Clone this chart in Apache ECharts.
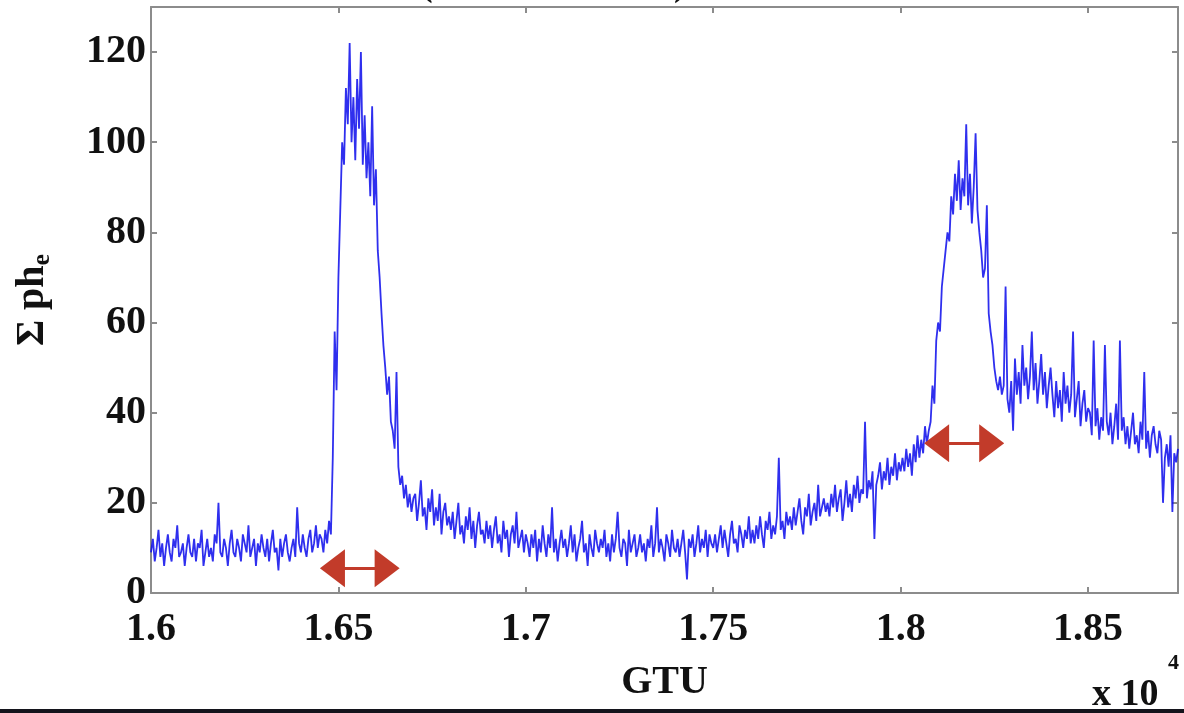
<!DOCTYPE html>
<html>
<head>
<meta charset="utf-8">
<script src="https://cdn.jsdelivr.net/npm/echarts@6/dist/echarts.min.js"></script>
<style>
html,body{margin:0;padding:0;background:#fff;}
#chart{width:1184px;height:713px;}
</style>
</head>
<body>
<div id="chart"></div>
<script>
// GTU sampling of the trace (x values in GTU, axis shown in units of 10^4)
const gtuStart = 16000;
const gtuStep = 5;

// Σ ph_e values, segment by segment
const baselineBefore = [ // 16000 .. 16480
  9,12,7,10,14,8,11,6,10,13,9,7,12,10,15,8,9,11,6,10,
  13,9,8,12,7,11,10,14,6,9,12,8,10,7,13,11,20,9,8,12,
  10,6,11,14,9,8,12,10,7,13,11,9,15,8,10,12,6,11,9,13,
  10,8,12,7,11,14,9,10,5,12,8,11,13,9,7,10,12,8,19,11,
  9,13,10,8,12,14,9,11,15,10,13,12,9,14,11,16,13
];
const firstPeak = [ // 16485 .. 16700
  30,58,45,70,85,100,95,112,104,122,100,110,96,114,103,120,95,106,92,100,
  88,108,86,94,76,70,62,55,50,44,48,38,36,32,49,28,24,26,21,24,
  19,22,18,21
];
const valley = [ // 16705 .. 17800
  22,16,20,25,17,19,14,21,18,23,15,19,16,22,13,18,20,15,17,14,
  18,12,16,20,13,15,11,17,14,19,12,16,10,15,18,13,14,11,16,12,
  15,10,14,17,11,13,9,16,12,14,8,13,15,11,18,10,12,14,9,13,
  11,8,13,10,14,7,12,9,15,11,8,13,10,19,9,12,7,11,14,10,
  12,8,11,15,9,13,7,10,12,16,9,11,6,13,10,8,14,11,9,12,
  10,14,8,11,7,13,9,12,18,10,8,12,11,6,14,9,11,13,8,10,
  13,9,11,7,12,10,15,8,11,19,9,12,10,7,13,11,8,14,10,9,
  12,8,11,14,9,3,12,10,13,8,11,15,9,12,10,14,8,13,11,10,
  13,9,12,15,10,14,11,8,13,16,11,12,9,15,13,10,14,12,17,11,
  14,11,15,12,17,13,10,16,14,18,12,15,13,17,30,14,16,12,18,15,
  17,14,19,15,18,21,16,13,19,17,22,15,18,20,16,24,17,19,21,18
];
const rise = [ // 17805 .. 18080
  20,17,22,19,24,18,21,23,16,20,25,19,22,18,24,21,26,20,23,22,
  38,21,25,23,27,12,24,26,29,23,27,25,30,24,28,26,31,25,29,27,
  30,27,32,28,31,26,33,29,35,30,34,31,37,33,36,38
];
const secondPeak = [ // 18085 .. 18300
  46,42,56,60,58,68,72,76,80,78,88,84,93,87,96,85,92,88,104,86,
  93,82,90,102,85,80,76,70,72,86,62,58,55,50,47,45,48,44,46,68,
  43,40,47,36
];
const tail = [ // 18305 .. 18740
  52,44,49,42,55,46,50,43,48,58,45,51,42,47,53,44,49,41,46,50,
  44,39,47,41,45,38,49,42,46,40,44,58,39,43,47,37,42,45,38,41,
  40,35,56,37,41,34,39,36,55,38,35,40,33,37,42,34,56,36,39,33,
  37,32,36,40,33,35,31,38,34,49,32,36,30,35,37,33,31,36,34,20,
  30,33,28,35,18,31,29,32
];
const sumPh = [].concat(baselineBefore, firstPeak, valley, rise, secondPeak, tail);

// Axis ticks
const xTickInterval = 500, xMin = 16000, xMax = 18740;
const yTickInterval = 20, yMin = 0, yMax = 130;

// Red double-arrow annotations: [startGTU, endGTU, level]
const arrowSpans = [
  [16484, 16630, 5.5],
  [18096, 18243, 33.2]
];

const traceData = sumPh.map((v, i) => [gtuStart + i * gtuStep, v]);

const FONT = 'Liberation Serif';
const boxColor = '#8c8c8c';
const labelStyle = {fontFamily: FONT, fontWeight: 'bold', fontSize: 40, color: '#111'};

const chart = echarts.init(document.getElementById('chart'), null, {renderer: 'canvas'});
const commonX = {
  type: 'value', min: xMin, max: xMax, interval: xTickInterval,
  splitLine: {show: false},
  axisLine: {show: true, onZero: false, lineStyle: {color: boxColor, width: 2}},
  axisTick: {show: true, inside: true, length: 6, lineStyle: {color: boxColor, width: 2}}
};
const commonY = {
  type: 'value', min: yMin, max: yMax, interval: yTickInterval,
  splitLine: {show: false},
  axisLine: {show: true, onZero: false, lineStyle: {color: boxColor, width: 2}},
  axisTick: {show: true, inside: true, length: 6, lineStyle: {color: boxColor, width: 2}}
};

chart.setOption({
  animation: false,
  backgroundColor: '#ffffff',
  grid: {left: 151, right: 6, top: 7, bottom: 120, containLabel: false},
  xAxis: [
    Object.assign({}, commonX, {
      position: 'bottom',
      name: 'GTU', nameLocation: 'middle', nameGap: 70,
      nameTextStyle: labelStyle,
      axisLabel: Object.assign({}, labelStyle, {
        margin: 17, showMaxLabel: false,
        formatter: v => (v % xTickInterval === 0 ? String(v / 10000) : '')
      })
    }),
    Object.assign({}, commonX, {position: 'top', axisLabel: {show: false}})
  ],
  yAxis: [
    Object.assign({}, commonY, {
      position: 'left',
      name: '{m|Σ ph}{s|e}', nameLocation: 'middle', nameGap: 96, nameRotate: 90,
      nameTextStyle: {
        rich: {
          m: {fontFamily: FONT, fontWeight: 'bold', fontSize: 40, color: '#111', lineHeight: 44},
          s: {fontFamily: FONT, fontWeight: 'bold', fontSize: 26, color: '#111', verticalAlign: 'bottom', lineHeight: 44}
        }
      },
      axisLabel: Object.assign({}, labelStyle, {margin: 5, showMaxLabel: false})
    }),
    Object.assign({}, commonY, {position: 'right', axisLabel: {show: false}})
  ],
  series: [
    {
      type: 'line',
      data: traceData,
      showSymbol: false,
      symbol: 'none',
      sampling: 'none',
      silent: true,
      lineStyle: {color: 'rgba(10,10,235,0.85)', width: 1.8}
    },
    {
      type: 'line',
      data: [],
      silent: true,
      markLine: {
        silent: true,
        symbol: ['triangle', 'triangle'],
        symbolSize: [38, 25],
        label: {show: false},
        lineStyle: {color: '#c23b2a', width: 3, type: 'solid'},
        emphasis: {disabled: true},
        data: arrowSpans.map(a => [{coord: [a[0], a[2]]}, {coord: [a[1], a[2]]}])
      }
    }
  ],
  graphic: [
    {type: 'text', left: 420, top: -34, style: {text: '(', font: 'bold 38px "Liberation Serif"', fill: '#111'}},
    {type: 'text', left: 674, top: -34, style: {text: ')', font: 'bold 38px "Liberation Serif"', fill: '#111'}},
    {type: 'text', left: 1092, top: 676, style: {text: 'x 10', font: 'bold 38px "Liberation Serif"', fill: '#111'}},
    {type: 'text', left: 1168, top: 652, style: {text: '4', font: 'bold 22px "Liberation Serif"', fill: '#111'}},
    {type: 'rect', left: 0, top: 709, shape: {width: 1184, height: 4}, style: {fill: '#14141c'}}
  ]
});
</script>
</body>
</html>
